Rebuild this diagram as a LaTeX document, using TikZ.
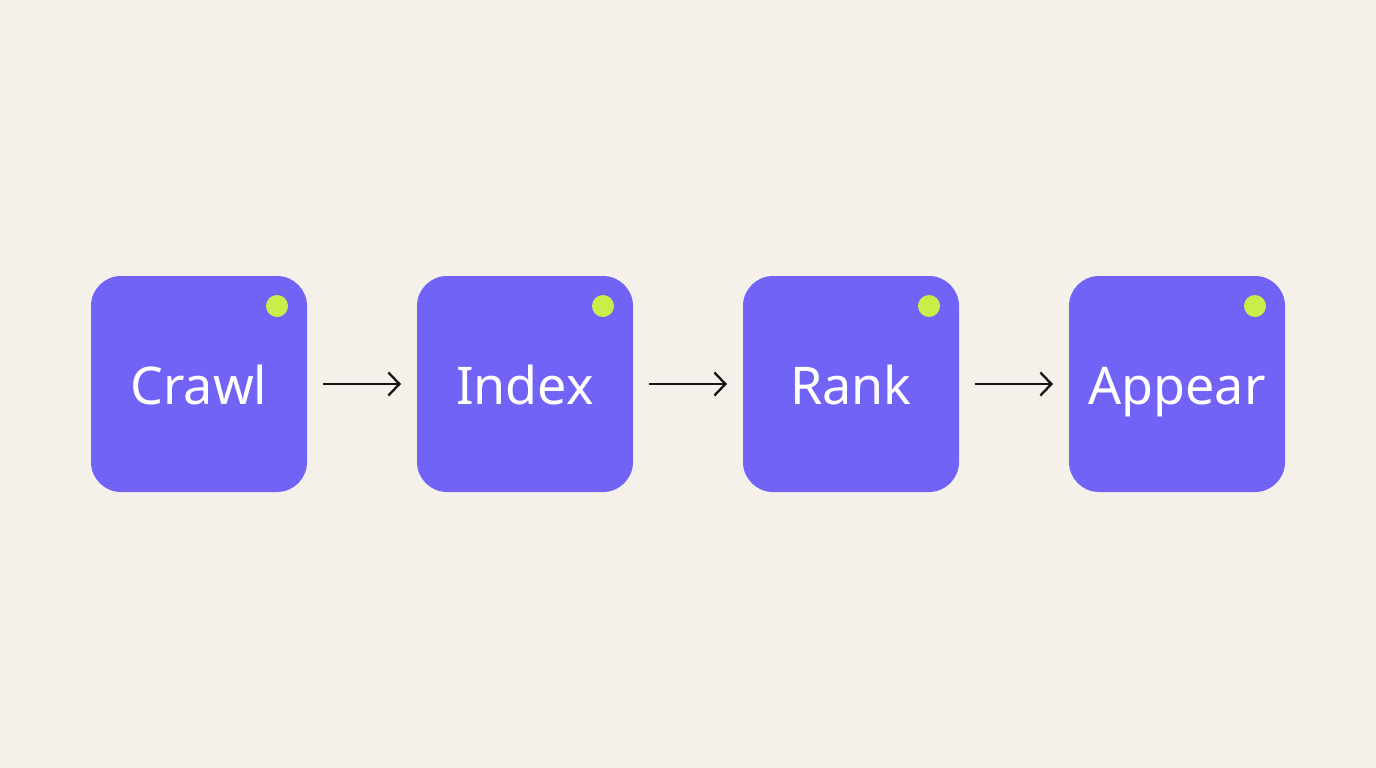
\documentclass[tikz,border=0pt]{standalone}
\usepackage{fontspec}
\setmainfont{Noto Sans}
\usetikzlibrary{arrows.meta}
\definecolor{bg}{HTML}{F5F1EA}
\definecolor{boxc}{HTML}{7063F6}
\definecolor{dotc}{HTML}{C9EE4A}
\definecolor{arr}{HTML}{151515}
\tikzset{
  stepbox/.style={fill=boxc, draw=none, rounded corners=30pt, minimum width=216pt, minimum height=216pt, inner sep=0pt},
  lbl/.style={text=white, font=\fontsize{52}{60}\selectfont, anchor=base, inner sep=0pt},
  dotmark/.style={circle, fill=dotc, draw=none, minimum size=22pt, inner sep=0pt},
  conn/.style={draw=arr, line width=2.3pt, -{Straight Barb[length=11pt,width=23pt,line width=2.3pt]}}
}
\begin{document}
\begin{tikzpicture}[x=1pt,y=-1pt]
\fill[bg] (0,0) rectangle (1376,768);
\useasboundingbox (0,0) rectangle (1376,768);
\foreach \i/\cx/\t in {1/199/Crawl,2/525/Index,3/851/Rank,4/1177/Appear}{
  \node[stepbox] (b\i) at (\cx,384) {};
  \node[dotmark] (d\i) at (\cx+78,306) {};
  \node[lbl] (t\i) at (\cx,404) {\t};
}
\coordinate (a1s) at (323,384); \coordinate (a1e) at (401,384);
\coordinate (a2s) at (649,384); \coordinate (a2e) at (727,384);
\coordinate (a3s) at (975,384); \coordinate (a3e) at (1053,384);
\draw[conn] (a1s) -- (a1e);
\draw[conn] (a2s) -- (a2e);
\draw[conn] (a3s) -- (a3e);
\end{tikzpicture}
\end{document}
